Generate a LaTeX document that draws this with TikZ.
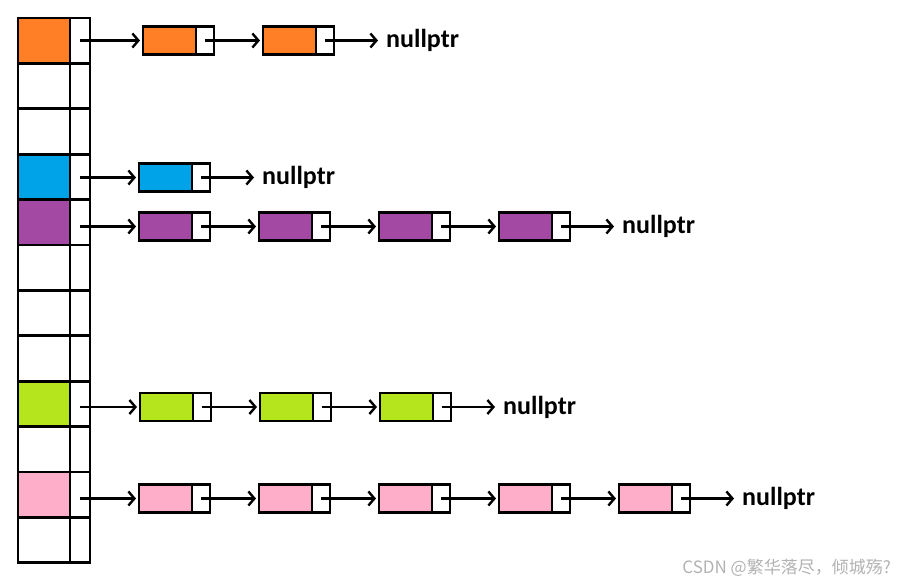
\documentclass[tikz,border=0pt]{standalone}
\usepackage{fontspec}
\setmainfont{Carlito}
\newfontfamily\cjkfont{Noto Sans CJK SC}
\usetikzlibrary{positioning,arrows.meta}

\definecolor{orng}{HTML}{FF7F27}
\definecolor{skyb}{HTML}{00A2E8}
\definecolor{purp}{HTML}{A349A4}
\definecolor{lime}{HTML}{B5E61D}
\definecolor{pink}{HTML}{FFAEC9}

\begin{document}
\begin{tikzpicture}[x=1pt, y=-1pt, >={Straight Barb[length=6pt,width=14pt]}, line width=2.4pt]
  \tikzstyle{cell}=[draw, line width=2.8pt, minimum width=52pt, minimum height=45.4pt,
    inner sep=0pt, outer sep=0pt, anchor=north west]
  \tikzstyle{ptr}=[cell, minimum width=20pt, fill=white]
  \tikzstyle{elem}=[draw, line width=2.8pt, minimum width=53pt, minimum height=28pt,
    inner sep=0pt, outer sep=0pt, anchor=west]
  \tikzstyle{nxt}=[elem, minimum width=18pt, fill=white]
  \tikzstyle{nulltext}=[font=\bfseries\fontsize{26}{30}\selectfont, anchor=west, inner sep=4pt]

  \useasboundingbox (0,0) rectangle (897,582);

  % hash table: 12 buckets
  \foreach \i/\c in {0/orng,1/white,2/white,3/skyb,4/purp,5/white,
                     6/white,7/white,8/lime,9/white,10/pink,11/white} {
    \node[cell, fill=\c] (k\i) at (18, {18+45.4*\i}) {};
    \node[ptr, right=0pt of k\i] (p\i) {};
  }

  % bucket 0: orange list
  \node[elem, fill=orng] (o1) at (143, 40.5) {};
  \node[nxt, right=0pt of o1] (o1p) {};
  \node[elem, fill=orng, right=49pt of o1p] (o2) {};
  \node[nxt, right=0pt of o2] (o2p) {};
  \node[nulltext, right=47pt of o2p] (on) {nullptr};

  % bucket 3: blue list
  \node[elem, fill=skyb] (b1) at (139, 177.5) {};
  \node[nxt, right=0pt of b1] (b1p) {};
  \node[nulltext, right=47pt of b1p] (bn) {nullptr};

  % bucket 4: purple list
  \node[elem, fill=purp] (u1) at (139, 226.5) {};
  \node[nxt, right=0pt of u1] (u1p) {};
  \node[elem, fill=purp, right=49pt of u1p] (u2) {};
  \node[nxt, right=0pt of u2] (u2p) {};
  \node[elem, fill=purp, right=49pt of u2p] (u3) {};
  \node[nxt, right=0pt of u3] (u3p) {};
  \node[elem, fill=purp, right=49pt of u3p] (u4) {};
  \node[nxt, right=0pt of u4] (u4p) {};
  \node[nulltext, right=47pt of u4p] (un) {nullptr};

  % bucket 8: green list
  \node[elem, fill=lime] (g1) at (140, 407) {};
  \node[nxt, right=0pt of g1] (g1p) {};
  \node[elem, fill=lime, right=49pt of g1p] (g2) {};
  \node[nxt, right=0pt of g2] (g2p) {};
  \node[elem, fill=lime, right=49pt of g2p] (g3) {};
  \node[nxt, right=0pt of g3] (g3p) {};
  \node[nulltext, right=47pt of g3p] (gn) {nullptr};

  % bucket 10: pink list
  \node[elem, fill=pink] (r1) at (139, 498.5) {};
  \node[nxt, right=0pt of r1] (r1p) {};
  \node[elem, fill=pink, right=49pt of r1p] (r2) {};
  \node[nxt, right=0pt of r2] (r2p) {};
  \node[elem, fill=pink, right=49pt of r2p] (r3) {};
  \node[nxt, right=0pt of r3] (r3p) {};
  \node[elem, fill=pink, right=49pt of r3p] (r4) {};
  \node[nxt, right=0pt of r4] (r4p) {};
  \node[elem, fill=pink, right=49pt of r4p] (r5) {};
  \node[nxt, right=0pt of r5] (r5p) {};
  \node[nulltext, right=47pt of r5p] (rn) {nullptr};

  % links
  \draw[->, shorten >=3pt] (p0.center |- o1.west) -- (o1.west);
  \draw[->, shorten >=3pt] (o1p.center) -- (o2.west);
  \draw[->, shorten >=3pt] (o2p.center) -- (on.west);

  \draw[->, shorten >=3pt] (p3.center |- b1.west) -- (b1.west);
  \draw[->, shorten >=3pt] (b1p.center) -- (bn.west);

  \draw[->, shorten >=3pt] (p4.center |- u1.west) -- (u1.west);
  \draw[->, shorten >=3pt] (u1p.center) -- (u2.west);
  \draw[->, shorten >=3pt] (u2p.center) -- (u3.west);
  \draw[->, shorten >=3pt] (u3p.center) -- (u4.west);
  \draw[->, shorten >=3pt] (u4p.center) -- (un.west);

  \draw[->, shorten >=3pt] (p8.center |- g1.west) -- (g1.west);
  \draw[->, shorten >=3pt] (g1p.center) -- (g2.west);
  \draw[->, shorten >=3pt] (g2p.center) -- (g3.west);
  \draw[->, shorten >=3pt] (g3p.center) -- (gn.west);

  \draw[->, shorten >=3pt] (p10.center |- r1.west) -- (r1.west);
  \draw[->, shorten >=3pt] (r1p.center) -- (r2.west);
  \draw[->, shorten >=3pt] (r2p.center) -- (r3.west);
  \draw[->, shorten >=3pt] (r3p.center) -- (r4.west);
  \draw[->, shorten >=3pt] (r4p.center) -- (r5.west);
  \draw[->, shorten >=3pt] (r5p.center) -- (rn.west);

  % watermark
  \node[font=\cjkfont\fontsize{17}{20}\selectfont, text=black!30, anchor=east, inner sep=0pt]
    (wm) at (892, 568) {CSDN @繁华落尽，倾城殇?};
\end{tikzpicture}
\end{document}
